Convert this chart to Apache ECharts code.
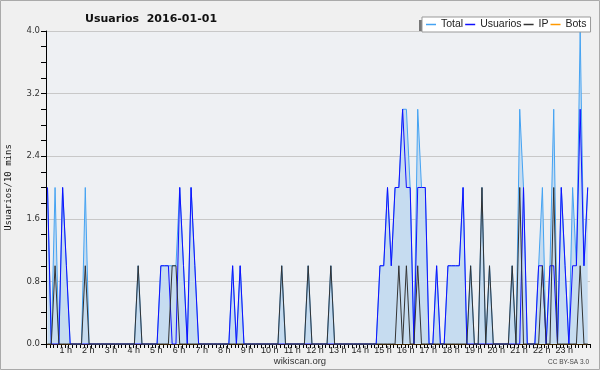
<!DOCTYPE html>
<html><head><meta charset="utf-8">
<script src="https://cdn.jsdelivr.net/npm/echarts@6/dist/echarts.min.js"></script>
<style>html,body{margin:0;padding:0;background:#f0f0f0}#c{width:600px;height:370px}</style>
</head><body><div id="c"></div>
<script>
// 10-minute slots, 144 per day
const hourLabels = ['1 h','2 h','3 h','4 h','5 h','6 h','7 h','8 h','9 h','10 h','11 h','12 h','13 h','14 h','15 h','16 h','17 h','18 h','19 h','20 h','21 h','22 h','23 h'];
const totalVals = [
  2,0,2,0,2,1,0,0,0,0,2,0,
  0,0,0,0,0,0,0,0,0,0,0,0,
  1,0,0,0,0,0,1,1,1,1,1,2,
  1,0,2,1,0,0,0,0,0,0,0,0,
  0,1,0,1,0,0,0,0,0,0,0,0,
  0,0,1,0,0,0,0,0,0,1,0,0,
  0,0,0,1,0,0,0,0,0,0,0,0,
  0,0,0,0,1,1,2,1,2,2,3,3,
  2,0,3,2,2,0,0,1,0,0,1,1,
  1,1,2,0,1,0,0,2,0,1,0,0,
  0,0,0,1,0,3,2,0,0,0,1,2,
  0,1,3,0,2,1,0,2,1,4,1,2
];
const usuariosVals = [
  2,0,0,0,2,1,0,0,0,0,0,0,
  0,0,0,0,0,0,0,0,0,0,0,0,
  0,0,0,0,0,0,1,1,1,0,0,2,
  1,0,2,1,0,0,0,0,0,0,0,0,
  0,1,0,1,0,0,0,0,0,0,0,0,
  0,0,0,0,0,0,0,0,0,0,0,0,
  0,0,0,0,0,0,0,0,0,0,0,0,
  0,0,0,0,1,1,2,1,2,2,3,2,
  2,0,2,2,2,0,0,1,0,0,1,1,
  1,1,2,0,0,0,0,0,0,0,0,0,
  0,0,0,0,0,0,2,0,0,0,1,1,
  0,1,1,0,2,1,0,1,1,3,1,2
];
const ipVals = [
  0,0,1,0,0,0,0,0,0,0,1,0,
  0,0,0,0,0,0,0,0,0,0,0,0,
  1,0,0,0,0,0,0,0,0,1,1,0,
  0,0,0,0,0,0,0,0,0,0,0,0,
  0,0,0,0,0,0,0,0,0,0,0,0,
  0,0,1,0,0,0,0,0,0,1,0,0,
  0,0,0,1,0,0,0,0,0,0,0,0,
  0,0,0,0,0,0,0,0,0,1,0,1,
  0,0,1,0,0,0,0,0,0,0,0,0,
  0,0,0,0,1,0,0,2,0,1,0,0,
  0,0,0,1,0,2,0,0,0,0,0,1,
  0,0,2,0,0,0,0,0,0,1,0,0
];
const botsVals = new Array(144).fill(0);

const toPts = arr => arr.map((v,i)=>[i+0.4, v]);
const chart = echarts.init(document.getElementById('c'), null, {renderer:'canvas'});
const FONT = 'DejaVu Sans';
const LIB = 'Liberation Sans';
chart.setOption({
  animation:false,
  backgroundColor:'#f0f0f0',
  title:{text:'Usuarios  2016-01-01', left:80, top:9,
    textStyle:{fontFamily:FONT, fontWeight:'bold', fontSize:11, color:'#111'}},
  legend:{left:422, top:17, padding:[2,4,2,4], itemGap:2, itemWidth:10, itemHeight:1.5,
    icon:'rect',
    backgroundColor:'#ffffff', borderColor:'#999', borderWidth:1, borderRadius:0,
    textStyle:{fontFamily:LIB, fontSize:10.5, color:'#222'},
    data:['Total','Usuarios','IP','Bots']},
  grid:{left:46, right:10, top:31, bottom:26, show:true, backgroundColor:'#eef0f3', borderWidth:0,
    containLabel:false, outerBoundsMode:'none'},
  xAxis:{type:'value', min:0, max:144, interval:1,
    axisLine:{show:true, onZero:false, lineStyle:{color:'#000', width:1}},
    axisTick:{show:true, length:4, lineStyle:{color:'#000'}},
    splitLine:{show:false},
    axisLabel:{margin:2, fontFamily:LIB, fontSize:9, color:'#222', padding:[0,6,0,0],
      formatter: v => (v%6===0 && v>0 && v<144) ? hourLabels[v/6-1] : ''}},
  yAxis:{type:'value', min:0, max:4, interval:0.8,
    name:'Usuarios/10 mins', nameLocation:'middle', nameRotate:90, nameGap:33,
    nameTextStyle:{fontFamily:'DejaVu Sans Mono', fontSize:9, color:'#111'},
    axisLine:{show:true, lineStyle:{color:'#000'}},
    axisTick:{show:true, length:5, lineStyle:{color:'#000'}},
    minorTick:{show:true, splitNumber:4, length:5, lineStyle:{color:'#000'}},
    splitLine:{show:true, lineStyle:{color:'#c8c8c8', width:1}},
    axisLabel:{margin:6, fontFamily:FONT, fontSize:8.5, color:'#333', formatter:v=>v.toFixed(1)}},
  series:[
    {name:'Total', type:'line', symbol:'none', data:toPts(totalVals), z:1,
      lineStyle:{color:'#45a3f2', width:1}, itemStyle:{color:'#45a3f2'},
      areaStyle:{color:'#c6dcf0', opacity:1}},
    {name:'Usuarios', type:'line', symbol:'none', data:toPts(usuariosVals), z:2,
      lineStyle:{color:'#1010ff', width:1}, itemStyle:{color:'#1010ff'}},
    {name:'IP', type:'line', symbol:'none', data:toPts(ipVals), z:3,
      lineStyle:{color:'#333333', width:1}, itemStyle:{color:'#333333'}},
    {name:'Bots', type:'line', symbol:'none', data:toPts(botsVals), z:0,
      lineStyle:{color:'#ff9900', width:1}, itemStyle:{color:'#ff9900'}}
  ],
  graphic:[
    {type:'rect', shape:{x:419, y:20, width:170, height:15.5}, style:{fill:'#777'}, z:-1},
    {type:'rect', shape:{x:0.5, y:0.5, width:599, height:369}, style:{fill:null, stroke:'#aaa', lineWidth:1}},
    {type:'text', x:300, y:356, style:{text:'wikiscan.org', fontFamily:LIB, fontSize:9.5, fill:'#333', textAlign:'center'}},
    {type:'text', x:589, y:359, style:{text:'CC BY-SA 3.0', fontFamily:LIB, fontSize:6.5, fill:'#444', textAlign:'right'}}
  ]
});
</script></body></html>
